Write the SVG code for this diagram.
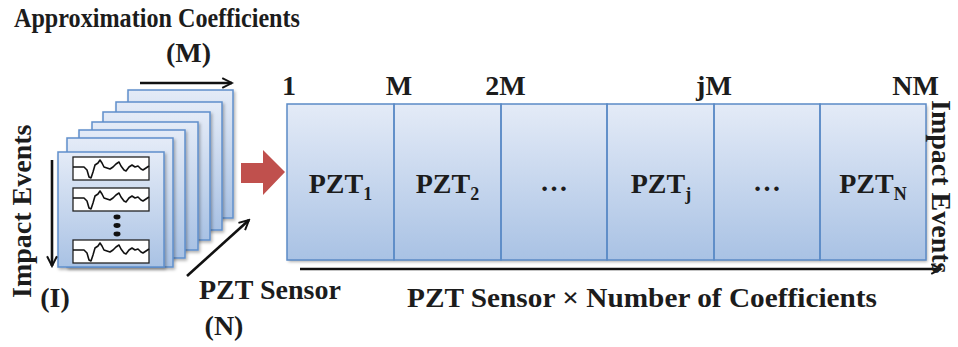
<svg xmlns="http://www.w3.org/2000/svg" width="958" height="347" viewBox="0 0 958 347">
  <style>
    .t { font-family: "Liberation Serif", "Times New Roman", serif; font-weight: bold; fill: #1c1c1c; font-size: 28px; }
    .card { fill: url(#blueGrad); stroke: #5f8fcb; stroke-width: 1.5; filter: url(#shadow); }
    .cell { fill: none; stroke: #5b8ac6; stroke-width: 1.5; }
    .wave { fill: #ffffff; stroke: #222; stroke-width: 1.3; }
    .sig { fill: none; stroke: #111; stroke-width: 1.6; stroke-linejoin: round; }
    .arr { fill: none; stroke: #111; stroke-width: 2.6; marker-end: url(#head); }
  </style>
  <defs>
    <linearGradient id="blueGrad" x1="0" y1="0" x2="0" y2="1">
      <stop offset="0" stop-color="#e4ebf7"/>
      <stop offset="1" stop-color="#a9c2e4"/>
    </linearGradient>
    <filter id="shadow" x="-10%" y="-10%" width="125%" height="125%">
      <feDropShadow dx="1.5" dy="2" stdDeviation="1.5" flood-color="#000" flood-opacity="0.3"/>
    </filter>
    <marker id="head" viewBox="0 0 10 10" refX="8.5" refY="5" markerWidth="5" markerHeight="5" orient="auto" markerUnits="strokeWidth">
      <path d="M1,1.2 L8.5,5 L1,8.8" fill="none" stroke="#111" stroke-width="1.5" stroke-linejoin="miter"/>
    </marker>
    <!-- one waveform trace, 76 x 23 box -->
    <g id="trace">
      <rect class="wave" x="0" y="0" width="76" height="23"/>
      <polyline class="sig" points="0,10 11,10 14,13 16,20 18,21 20,15 22,8 25,6 27,3 29,6 31,10 34,11 37,12 40,10 43,7 46,5 48,9 51,13 53,14 56,10 59,8 62,10 65,9 68,12 70,13 73,11 76,9"/>
    </g>
  </defs>

  <!-- stack of per-sensor matrices -->
  <g id="stack">
    <rect class="card" x="128" y="90" width="105" height="128"/>
    <rect class="card" x="116" y="102" width="106" height="128"/>
    <rect class="card" x="103" y="112" width="107" height="128"/>
    <rect class="card" x="92" y="122" width="106" height="128"/>
    <rect class="card" x="79" y="130" width="106" height="128"/>
    <rect class="card" x="67" y="138" width="106" height="129"/>
    <rect class="card" x="58" y="152" width="106" height="115"/>
    <use href="#trace" x="73" y="157"/>
    <use href="#trace" x="73" y="188"/>
    <use href="#trace" x="73" y="240"/>
    <ellipse cx="117" cy="217" rx="3.5" ry="2.4" fill="#111"/>
    <ellipse cx="117" cy="225.5" rx="3.5" ry="2.4" fill="#111"/>
    <ellipse cx="117" cy="234" rx="3.5" ry="2.4" fill="#111"/>
  </g>

  <!-- transform arrow -->
  <g id="bigArrow">
    <polygon points="241,163 263,163 263,150 285,172 263,195 263,183 241,183" fill="#c0504d"/>
  </g>

  <!-- concatenated feature matrix -->
  <g id="matrix">
    <rect x="287" y="104" width="639" height="156" fill="url(#blueGrad)" filter="url(#shadow)"/>
    <rect class="cell" x="287" y="104" width="107" height="156"/>
    <rect class="cell" x="394" y="104" width="107" height="156"/>
    <rect class="cell" x="501" y="104" width="106" height="156"/>
    <rect class="cell" x="607" y="104" width="107" height="156"/>
    <rect class="cell" x="714" y="104" width="106" height="156"/>
    <rect class="cell" x="820" y="104" width="106" height="156"/>
    <text class="t" x="340.5" y="193" text-anchor="middle">PZT<tspan font-size="18" dy="7">1</tspan></text>
    <text class="t" x="447.5" y="193" text-anchor="middle">PZT<tspan font-size="18" dy="7">2</tspan></text>
    <text class="t" x="554" y="191" text-anchor="middle">…</text>
    <text class="t" x="661" y="193" text-anchor="middle">PZT<tspan font-size="18" dy="7">j</tspan></text>
    <text class="t" x="767" y="191" text-anchor="middle">…</text>
    <text class="t" x="873" y="193" text-anchor="middle">PZT<tspan font-size="18" dy="7">N</tspan></text>
  </g>

  <!-- axis arrows -->
  <g id="connectors">
    <line class="arr" x1="140" y1="83" x2="232" y2="83"/>
    <line class="arr" x1="52" y1="160" x2="52" y2="266"/>
    <line class="arr" x1="187" y1="276" x2="249" y2="220"/>
    <line class="arr" x1="300" y1="269" x2="941" y2="269"/>
  </g>

  <!-- labels -->
  <g id="labels">
    <text class="t" x="14" y="27" font-size="27" textLength="286" lengthAdjust="spacingAndGlyphs">Approximation Coefficients</text>
    <text class="t" x="188.5" y="62" text-anchor="middle">(M)</text>
    <text class="t" x="282" y="95">1</text>
    <text class="t" x="399" y="95" text-anchor="middle">M</text>
    <text class="t" x="505.5" y="95" text-anchor="middle">2M</text>
    <text class="t" x="714" y="95" text-anchor="middle">jM</text>
    <text class="t" x="915.5" y="95" text-anchor="middle">NM</text>
    <text class="t" transform="translate(31,298) rotate(-90)">Impact Events</text>
    <text class="t" transform="translate(932,100) rotate(90)">Impact Events</text>
    <text class="t" x="55" y="307" text-anchor="middle">(I)</text>
    <text class="t" x="199" y="299">PZT Sensor</text>
    <text class="t" x="224" y="335" text-anchor="middle">(N)</text>
    <text class="t" x="642" y="307" text-anchor="middle" textLength="470" lengthAdjust="spacingAndGlyphs">PZT Sensor × Number of Coefficients</text>
  </g>
</svg>
